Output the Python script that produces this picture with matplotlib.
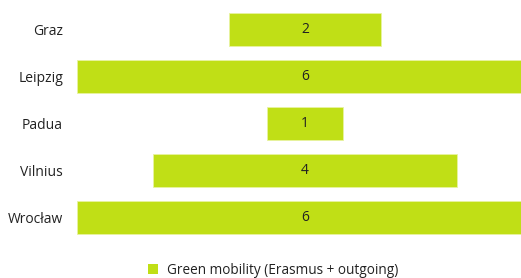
import matplotlib
matplotlib.use("Agg")
import matplotlib.pyplot as plt
from matplotlib.patches import Patch

cities = ["Graz", "Leipzig", "Padua", "Vilnius", "Wrocław"]
values = [2, 6, 1, 4, 6]
series_name = "Green mobility (Erasmus + outgoing)"

color = "#C0DF16"
plt.rcParams['font.family'] = ['Open Sans', 'DejaVu Sans']

W, H = 521, 278
fig = plt.figure(figsize=(W/100, H/100), dpi=100)
ax = fig.add_axes([77/W, (H-241.5)/H, 456/W, 235.5/H])

vmax = max(values)
lefts = [(vmax - v) / 2 for v in values]
ys = list(range(len(cities)))
ax.barh(ys, values, left=lefts, height=0.7, color=color, edgecolor="#e8f3a0", linewidth=0.6)
for y, v, l in zip(ys, values, lefts):
    ax.text(l + v/2, y, str(v), ha="center", va="center", fontsize=10, color="#222222")

ax.set_xlim(0, vmax)
ax.set_ylim(len(cities) - 0.5, -0.5)
ax.set_yticks(ys)
ax.set_yticklabels(cities, fontsize=10, color="#222222")
ax.tick_params(axis="y", length=0, pad=10)
ax.set_xticks([])
for s in ax.spines.values():
    s.set_visible(False)

fig.legend(handles=[Patch(facecolor=color, label=series_name)], loc="center",
           bbox_to_anchor=(273/W, 1 - 270/H), frameon=False, fontsize=9.8,
           handlelength=0.75, handleheight=0.75, handletextpad=0.6,
           labelcolor="#222222")

fig.savefig("out.png", dpi=100)
